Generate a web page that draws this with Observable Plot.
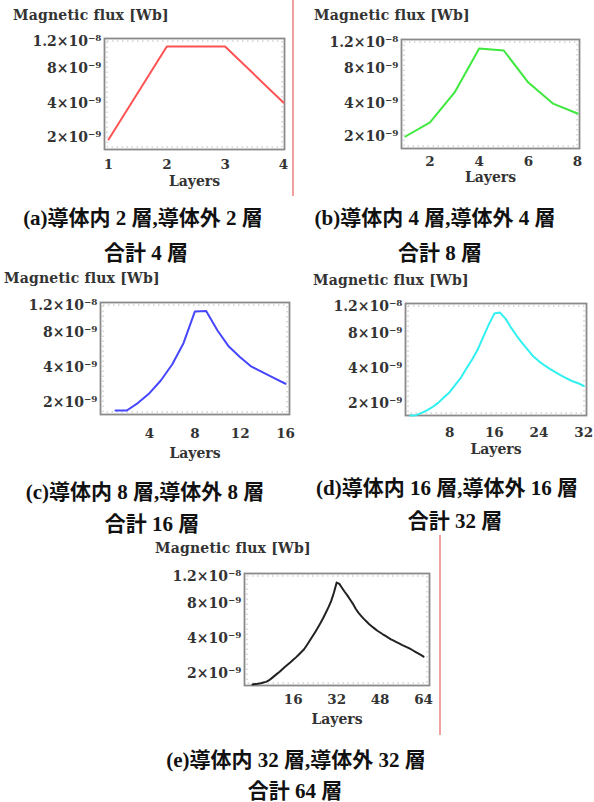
<!DOCTYPE html>
<html><head><meta charset="utf-8">
<script src="https://cdn.jsdelivr.net/npm/d3@7"></script>
<script src="https://cdn.jsdelivr.net/npm/@observablehq/plot@0.6"></script>
<style>
html,body{margin:0;padding:0;background:#fff;}
body{width:594px;height:802px;position:relative;overflow:hidden;}
.panel{position:absolute;}
.title{position:absolute;font:bold 14px "DejaVu Serif",serif;color:#333;white-space:nowrap;transform:translateY(-50%);letter-spacing:0.2px;}
.cap{position:absolute;transform:translate(-50%,-50%);font-family:"Liberation Serif","Noto Sans CJK JP",serif;font-weight:bold;font-size:21px;white-space:nowrap;color:#111;}
.sep{position:absolute;width:2px;background:#f3a0a0;}
</style></head><body>
<script>
// ---- data (flux in units of 1e-9 Wb, one value per layer) ----
const fluxA = [1.89, 11.25, 11.25, 4.08];
const fluxB = [2.02, 2.85, 5.23, 11.07, 10.77, 6.38, 3.97, 3.38];
const fluxC = [1.54, 1.54, 1.98, 2.54, 3.27, 4.37, 6.78, 11.1, 11.2, 8.28, 6.40, 5.20, 4.13, 3.73, 3.40, 3.08];
const fluxD = [1.31, 1.33, 1.46, 1.62, 1.81, 2.05, 2.36, 2.65, 3.07, 3.48, 4.04, 5.02, 6.14, 7.58, 9.30, 10.95,
               11.1, 10.20, 8.85, 7.73, 6.90, 6.14, 5.38, 4.84, 4.38, 3.98, 3.79, 3.61, 3.44, 3.28, 3.17, 3.01];
const fluxE = [1.37, 1.39, 1.41, 1.44, 1.48, 1.52, 1.60, 1.72, 1.85, 1.98, 2.10, 2.25, 2.39, 2.52, 2.65, 2.79,
               2.93, 3.08, 3.24, 3.40, 3.63, 3.87, 4.23, 4.72, 5.23, 5.76, 6.32, 6.95, 7.58, 8.37, 9.62, 11.10,
               10.90, 10.30, 9.70, 9.15, 8.55, 7.95, 7.39, 6.95, 6.60, 6.25, 5.95, 5.65, 5.40, 5.15, 4.91, 4.71,
               4.51, 4.32, 4.13, 3.97, 3.89, 3.81, 3.73, 3.65, 3.58, 3.51, 3.43, 3.34, 3.25, 3.16, 3.07, 2.97];

const yTickValues = [2, 4, 8, 12];
const yTickLabels = ["2×10⁻⁹", "4×10⁻⁹", "8×10⁻⁹", "1.2×10⁻⁸"];
const yDomain = [1.31, 2, 4, 8, 12, 12.45];

const xTicksA = [1, 2, 3, 4];
const xTicksB = [2, 4, 6, 8];
const xTicksC = [4, 8, 12, 16];
const xTicksD = [8, 16, 24, 32];
const xTicksE = [16, 32, 48, 64];

const yTitle = "Magnetic flux [Wb]";
const xTitle = "Layers";

const captionLine1 = ["(a)導体内 2 層,導体外 2 層", "(b)導体内 4 層,導体外 4 層", "(c)導体内 8 層,導体外 8 層",
                      "(d)導体内 16 層,導体外 16 層", "(e)導体内 32 層,導体外 32 層"];
const captionLine2 = ["合計 4 層", "合計 8 層", "合計 16 層", "合計 32 層", "合計 64 層"];

// ---- layout ----
// The printed flux axis is not uniform: each labelled value sits at a fixed
// fraction of the frame height (0 = top). Values are placed piecewise-linearly.
const yFrac = [1, 0.893, 0.583, 0.267, 0.027, 0];
const fluxToFrac = d3.scaleLinear().domain(yDomain).range(yFrac);
const yTickPos = yTickValues.map(fluxToFrac);

const panels = [
  {flux: fluxA, ticks: xTicksA, xDomain: [0.93, 4.02], color: "#ff5252", box: [104, 38, 180, 111], title: [13, 15], tickPad: 10, labelDy: 36, cap: [[143, 216], [146, 251]]},
  {flux: fluxB, ticks: xTicksB, xDomain: [0.84, 8.08], color: "#3ee83e", box: [401, 39, 178, 109], title: [314, 15], tickPad: 8, labelDy: 33, cap: [[435, 216], [440, 251]]},
  {flux: fluxC, ticks: xTicksC, xDomain: [-0.32, 16.35], color: "#4646ff", box: [100, 302, 189, 112], title: [4, 278], tickPad: 14, labelDy: 43, cap: [[145, 490], [152, 522]]},
  {flux: fluxD, ticks: xTicksD, xDomain: [0.1, 32.5], color: "#30f0f0", box: [405, 303, 181, 112], title: [313, 280], tickPad: 12, labelDy: 38, cap: [[447, 486], [455, 519]]},
  {flux: fluxE, ticks: xTicksE, xDomain: [-1.95, 66.2], color: "#222222", box: [244, 573, 185, 112], title: [155, 548], tickPad: 9, labelDy: 38, cap: [[296, 758], [295, 789]]}
];

const mL = 100, mT = 12, mR = 8, mB = 56;

panels.forEach((p, k) => {
  const [left, top, w, h] = p.box;
  const data = p.flux.map((v, i) => ({layer: i + 1, flux: v}));
  const svg = Plot.plot({
    width: mL + w + mR, height: mT + h + mB,
    marginLeft: mL, marginTop: mT, marginRight: mR, marginBottom: mB,
    style: {background: "transparent", fontFamily: "'DejaVu Serif', serif", fontSize: "13.5px", color: "#333", overflow: "visible"},
    x: {domain: p.xDomain},
    y: {domain: [1, 0]},
    marks: [
      Plot.frame({stroke: "#bbb", strokeWidth: 1, strokeDasharray: "1.5,3.5", inset: 2.5}),
      Plot.frame({stroke: "#8a8a8a", strokeWidth: 1.8}),
      Plot.axisX({ticks: p.ticks, tickSize: 0, tickPadding: p.tickPad, tickFormat: d => String(d), label: null, fontWeight: "bold", fill: "#333"}),
      Plot.axisY({ticks: yTickPos, tickSize: 0, tickPadding: 3, fontSize: 14,
                  tickFormat: d => yTickLabels[yTickPos.findIndex(t => Math.abs(t - d) < 1e-9)],
                  label: null, fontWeight: "bold", fill: "#333"}),
      Plot.lineY(data, {x: "layer", y: d => fluxToFrac(d.flux), stroke: p.color, strokeWidth: 2}),
      Plot.text([xTitle], {frameAnchor: "bottom", dy: p.labelDy, text: d => d, fontWeight: "bold", fontSize: 14, fill: "#333"})
    ]
  });
  const div = document.createElement("div");
  div.className = "panel";
  div.style.left = (left - mL) + "px";
  div.style.top = (top - mT) + "px";
  div.appendChild(svg);
  document.body.appendChild(div);

  const t = document.createElement("div");
  t.className = "title";
  t.textContent = yTitle;
  t.style.left = p.title[0] + "px";
  t.style.top = p.title[1] + "px";
  document.body.appendChild(t);

  [captionLine1[k], captionLine2[k]].forEach((txt, j) => {
    const c = document.createElement("div");
    c.className = "cap";
    c.textContent = txt;
    c.style.left = p.cap[j][0] + "px";
    c.style.top = p.cap[j][1] + "px";
    document.body.appendChild(c);
  });
});

// separator lines that appear in the scanned figure
[[292, 0, 196], [439, 535, 200]].forEach(([x, y, hh]) => {
  const s = document.createElement("div");
  s.className = "sep";
  s.style.left = x + "px"; s.style.top = y + "px"; s.style.height = hh + "px";
  document.body.appendChild(s);
});
</script>
</body></html>
